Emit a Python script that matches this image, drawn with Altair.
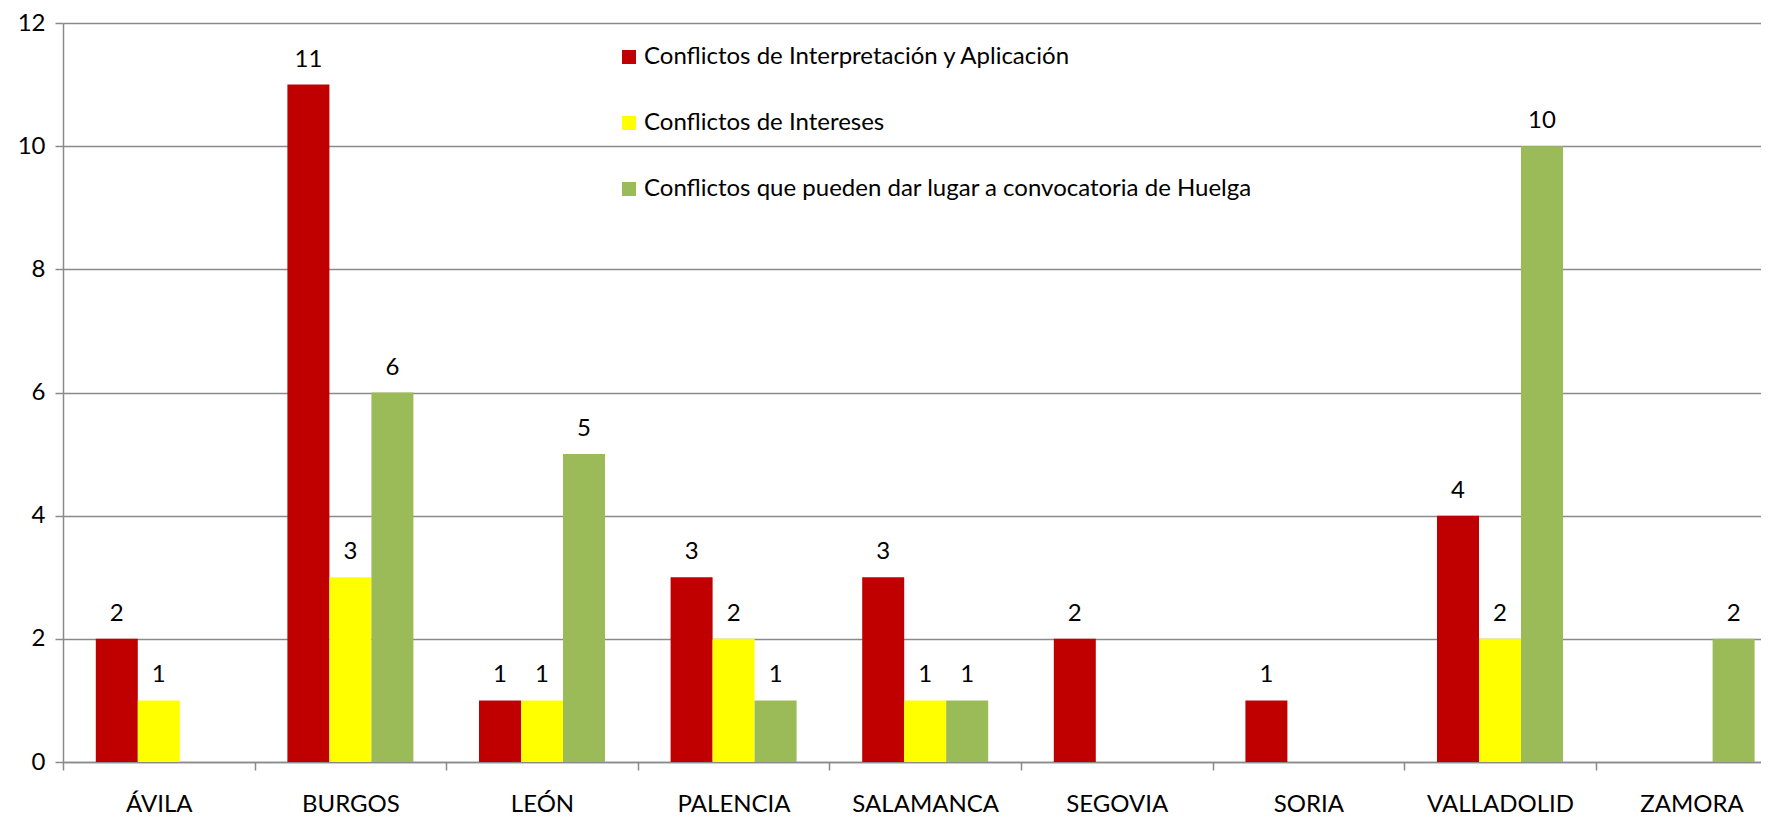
import altair as alt
import pandas as pd

provinces = ["ÁVILA", "BURGOS", "LEÓN", "PALENCIA", "SALAMANCA", "SEGOVIA", "SORIA", "VALLADOLID", "ZAMORA"]
series_names = [
    "Conflictos de Interpretación y Aplicación",
    "Conflictos de Intereses",
    "Conflictos que pueden dar lugar a convocatoria de Huelga",
]
interpretacion = [2, 11, 1, 3, 3, 2, 1, 4, 0]
intereses = [1, 3, 1, 2, 1, 0, 0, 2, 0]
huelga = [0, 6, 5, 1, 1, 0, 0, 10, 2]
colors = ["#C00000", "#FFFF00", "#9BBB59"]
y_ticks = [0, 2, 4, 6, 8, 10, 12]

rows = []
for name, vals in zip(series_names, [interpretacion, intereses, huelga]):
    for p, v in zip(provinces, vals):
        if v > 0:
            rows.append({"provincia": p, "serie": name, "valor": v})
df = pd.DataFrame(rows)

FONT = "Lato"
FS = 24
GRID = "#8A8A8A"

base = alt.Chart(df).encode(
    x=alt.X(
        "provincia:N",
        sort=provinces,
        scale=alt.Scale(domain=provinces, range=[0, 1724.4], paddingInner=0, paddingOuter=0),
        axis=alt.Axis(
            title=None,
            tickBand="extent",
            tickSize=8,
            tickColor=GRID,
            tickWidth=1.5,
            domainColor=GRID,
            domainWidth=1.5,
            labelFont=FONT,
            labelFontSize=FS,
            labelColor="black",
            labelBaseline="alphabetic",
            labelPadding=41,
            labelAngle=0,
            grid=False,
        ),
    ),
    xOffset=alt.XOffset(
        "serie:N",
        sort=series_names,
        scale=alt.Scale(domain=series_names, paddingInner=0, paddingOuter=0.781),
    ),
    y=alt.Y(
        "valor:Q",
        scale=alt.Scale(domain=[0, 12], nice=False),
        axis=alt.Axis(
            title=None,
            values=y_ticks,
            tickSize=8,
            tickColor=GRID,
            tickWidth=1.5,
            domainColor=GRID,
            domainWidth=1.5,
            gridColor=GRID,
            gridWidth=1.5,
            labelFont=FONT,
            labelFontSize=FS,
            labelColor="black",
            labelPadding=10,
        ),
    ),
)

bars = base.mark_bar().encode(
    color=alt.Color(
        "serie:N",
        sort=series_names,
        scale=alt.Scale(domain=series_names, range=colors),
        legend=alt.Legend(
            title=None,
            orient="none",
            legendX=554,
            legendY=22,
            symbolType="square",
            symbolSize=196,
            symbolStrokeWidth=0,
            labelFont=FONT,
            labelFontSize=FS,
            labelColor="black",
            labelLimit=800,
            labelOffset=3,
            rowPadding=42,
            padding=0,
        ),
    )
)

labels = base.mark_text(
    dy=-18, baseline="alphabetic", fontSize=FS, font=FONT, color="black"
).encode(text="valor:Q")

chart = (
    alt.layer(bars, labels)
    .properties(
        width=1698,
        height=739,
        autosize=alt.AutoSizeParams(type="none"),
        padding={"left": 55, "top": 15, "right": 0, "bottom": 55},
        background="white",
    )
    .configure_view(stroke=None)
)

chart.save("out.html", embed_options={"renderer": "svg", "actions": False})
